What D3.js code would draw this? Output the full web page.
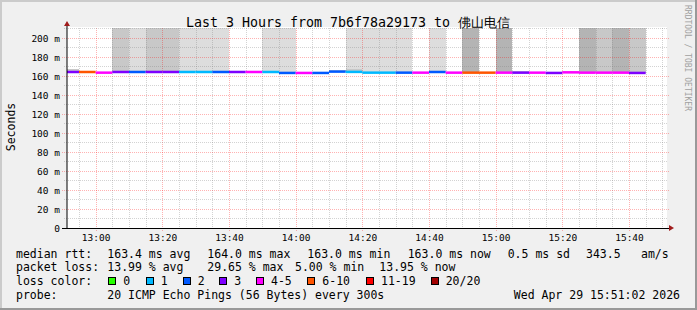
<!DOCTYPE html>
<html>
<head>
<meta charset="utf-8">
<script src="https://cdn.jsdelivr.net/npm/d3@7"></script>
<style>
  body { margin: 0; background: #fff; }
  svg text { font-family: "DejaVu Sans Mono", monospace; fill: #000; }
</style>
</head>
<body>
<div id="chart"></div>
<script>
// ---- data ----
const title = "Last 3 Hours from 7b6f78a29173 to 佛山电信";
const day = "2026-04-29";
const rangeStart = "12:51:24";
const rangeEnd = "15:51:24";

// 5 minute steps, one entry per step
const stepStart = [
  "12:50", "12:55", "13:00", "13:05", "13:10", "13:15", "13:20", "13:25", "13:30", "13:35",
  "13:40", "13:45", "13:50", "13:55", "14:00", "14:05", "14:10", "14:15", "14:20", "14:25",
  "14:30", "14:35", "14:40", "14:45", "14:50", "14:55", "15:00", "15:05", "15:10", "15:15",
  "15:20", "15:25", "15:30", "15:35", "15:40"
];
const medianMs = [
  164.2, 164.2, 163.5, 164.2, 164.2, 164.2, 164.2, 164.2, 164.2, 164.2,
  164.2, 164.2, 164.2, 163.2, 163.2, 163.2, 164.6, 164.3, 163.5, 163.5,
  163.5, 163.5, 164.2, 163.5, 163.5, 163.5, 163.5, 163.5, 163.5, 163.2,
  163.8, 163.5, 163.5, 163.5, 163.2
];
// lost pings out of 20
const lostPings = [
  3, 6, 5, 3, 2, 3, 3, 1, 1, 2,
  3, 4, 1, 2, 4, 2, 2, 1, 1, 1,
  2, 4, 2, 4, 6, 6, 5, 3, 4, 3,
  4, 5, 5, 5, 3
];
// pings far above the scale (smoke going off the top)
const pingsOffScale = [
  0, 0, 0, 2, 1, 2, 2, 1, 1, 1,
  0, 0, 1, 1, 0, 0, 0, 1, 1, 1,
  1, 0, 1, 0, 3, 0, 3, 0, 0, 0,
  0, 3, 2, 3, 2
];
// highest in-scale ping (small smoke just above the median)
const smokeMaxMs = [
  167.0, null, null, null, null, null, null, null, null, null,
  null, null, null, null, null, null, 166.6, 167.4, null, null,
  null, null, null, null, null, null, null, 165.6, null, null,
  165.6, null, null, null, null
];

const lossLabels = ["0", "1", "2", "3", "4-5", "6-10", "11-19", "20/20"];
const lossUpper = [0, 1, 2, 3, 5, 10, 19, 20];

const rttStats = ["163.4 ms avg", "164.0 ms max", "163.0 ms min", "163.0 ms now", "0.5 ms sd", "343.5", "am/s"];
const lossStats = ["13.99 % avg", "29.65 % max", "5.00 % min", "13.95 % now"];
const probeText = "20 ICMP Echo Pings (56 Bytes) every 300s";
const stampText = "Wed Apr 29 15:51:02 2026";

// ---- drawing ----
const W = 697, H = 310;
const lossColors = ["#26ff00", "#00b8ff", "#0059ff", "#7e00ff", "#ff00ff", "#ff5500", "#ff0000", "#a10000"];
const smokeShade = d3.scaleOrdinal().domain([1, 2, 3]).range(["#dddddd", "#c8c8c8", "#b4b4b4"]);

const parseT = d3.timeParse("%Y-%m-%d %H:%M:%S");
const parseM = d3.timeParse("%Y-%m-%d %H:%M");

const x = d3.scaleTime()
  .domain([parseT(day + " " + rangeStart), parseT(day + " " + rangeEnd)])
  .range([67, 667]);
const y = d3.scaleLinear().domain([0, 210.5]).range([228, 28]);

const svg = d3.select("#chart").append("svg")
  .attr("width", W).attr("height", H);

// canvas + frame
svg.append("rect").attr("width", W).attr("height", H).attr("fill", "#f0f0f0");
svg.append("path").attr("d", `M0,${H}V0H${W}`).attr("fill", "none")
  .attr("stroke", "#cbcbcb").attr("stroke-width", 4);
svg.append("path").attr("d", `M0,${H}H${W}V0`).attr("fill", "none")
  .attr("stroke", "#999999").attr("stroke-width", 4);

// plot background
svg.append("rect").attr("x", 67).attr("y", 27).attr("width", 600).attr("height", 201).attr("fill", "#fff");

const steps = stepStart.map((s, i) => {
  const t = parseM(day + " " + s);
  return {
    x0: Math.max(x(t), 67),
    x1: x(d3.timeMinute.offset(t, 5)),
    median: medianMs[i],
    lost: lostPings[i],
    off: pingsOffScale[i],
    smoke: smokeMaxMs[i]
  };
});

// smoke going off scale
svg.append("g").selectAll("rect")
  .data(steps.filter(d => d.off > 0))
  .join("rect")
  .attr("x", d => d.x0).attr("width", d => d.x1 - d.x0)
  .attr("y", y.range()[1]).attr("height", d => y(d.median) - y.range()[1])
  .attr("fill", d => smokeShade(d.off))
  .attr("shape-rendering", "crispEdges");

// small smoke
svg.append("g").selectAll("rect")
  .data(steps.filter(d => d.smoke != null))
  .join("rect")
  .attr("x", d => d.x0).attr("width", d => d.x1 - d.x0)
  .attr("y", d => y(d.smoke)).attr("height", d => y(d.median) - y(d.smoke))
  .attr("fill", "#c8c8c8")
  .attr("shape-rendering", "crispEdges");

// grid
const grid = svg.append("g").attr("shape-rendering", "crispEdges").attr("stroke-dasharray", "1,1");
const minorX = x.ticks(d3.timeMinute.every(5));
const majorX = x.ticks(d3.timeMinute.every(20));
const isMajorX = t => t.getMinutes() % 20 === 0;
grid.selectAll("line.vx").data(minorX).join("line")
  .attr("x1", d => Math.round(x(d)) + 0.5).attr("x2", d => Math.round(x(d)) + 0.5)
  .attr("y1", 28).attr("y2", d => isMajorX(d) ? 231 : 230)
  .attr("stroke", d => isMajorX(d) ? "rgba(255,0,0,0.3)" : "rgba(128,128,128,0.35)");
const minorY = d3.range(10, 211, 10);
grid.selectAll("line.hy").data(minorY).join("line")
  .attr("y1", d => Math.round(y(d)) + 0.5).attr("y2", d => Math.round(y(d)) + 0.5)
  .attr("x1", d => d % 20 === 0 ? 62 : 64).attr("x2", d => d % 20 === 0 ? 669 : 667)
  .attr("stroke", d => d % 20 === 0 ? "rgba(255,0,0,0.3)" : "rgba(128,128,128,0.35)");

// median line coloured by loss
const lossIndex = n => lossUpper.findIndex(u => n <= u);
svg.append("g").selectAll("line")
  .data(steps)
  .join("line")
  .attr("x1", d => d.x0).attr("x2", d => d.x1)
  .attr("y1", d => y(d.median)).attr("y2", d => y(d.median))
  .attr("stroke", d => lossColors[lossIndex(d.lost)])
  .attr("stroke-width", 2.5);

// axes
svg.append("line").attr("x1", 67).attr("x2", 67).attr("y1", 228).attr("y2", 25)
  .attr("stroke", "#000").attr("stroke-width", 1);
svg.append("line").attr("x1", 62).attr("x2", 670).attr("y1", 228.5).attr("y2", 228.5)
  .attr("stroke", "#000").attr("stroke-width", 1.2);
svg.append("path").attr("d", "M64,26L70,26L67,21Z").attr("fill", "#a01c1c");
svg.append("path").attr("d", "M669,225L669,231L674,228Z").attr("fill", "#a01c1c");

// tick labels
svg.append("g").selectAll("text")
  .data(d3.range(0, 201, 20))
  .join("text")
  .attr("x", 60).attr("y", d => y(d) + 3.6)
  .attr("text-anchor", "end").attr("font-size", "9.5px")
  .text(d => d === 0 ? "0" : d + " m");
svg.append("g").selectAll("text")
  .data(majorX)
  .join("text")
  .attr("x", d => x(d) + 0.5).attr("y", 241)
  .attr("text-anchor", "middle").attr("font-size", "9.5px")
  .text(d3.timeFormat("%H:%M"));

// titles
svg.append("text").attr("x", 348).attr("y", 26.5).attr("text-anchor", "middle")
  .attr("font-size", "13.3px").text(title);
svg.append("text").attr("transform", "translate(14.5,127) rotate(-90)")
  .attr("text-anchor", "middle").attr("font-size", "11.5px").text("Seconds");
svg.append("text").attr("transform", "translate(685,5) rotate(90)")
  .attr("font-size", "8px").style("fill", "#a0a0a0").text("RRDTOOL / TOBI OETIKER");

// legend
const leg = svg.append("g").attr("font-size", "11.5px");
const put = (px, py, s) => leg.append("text").attr("x", px).attr("y", py).text(s);
put(16, 257.5, "median rtt:");
[107.3, 207.3, 307.3, 407.7, 507.7, 586, 641].forEach((px, i) => put(px, 257.5, rttStats[i]));
put(16, 271, "packet loss:");
[107.3, 207.3, 295, 379.3].forEach((px, i) => put(px, 271, lossStats[i]));
put(16, 285, "loss color:");
const boxX = [108.3, 145.7, 182.7, 219.3, 256, 307.3, 366, 430.7];
boxX.forEach((bx, i) => {
  leg.append("rect").attr("x", Math.round(bx) + 0.5).attr("y", 277.5).attr("width", 7).attr("height", 7)
    .attr("fill", lossColors[i]).attr("stroke", "#000");
  put(bx + 15, 285, lossLabels[i]);
});
put(16, 299, "probe:");
put(107.3, 299, probeText);
put(680, 299, stampText).attr("text-anchor", "end");
</script>
</body>
</html>
